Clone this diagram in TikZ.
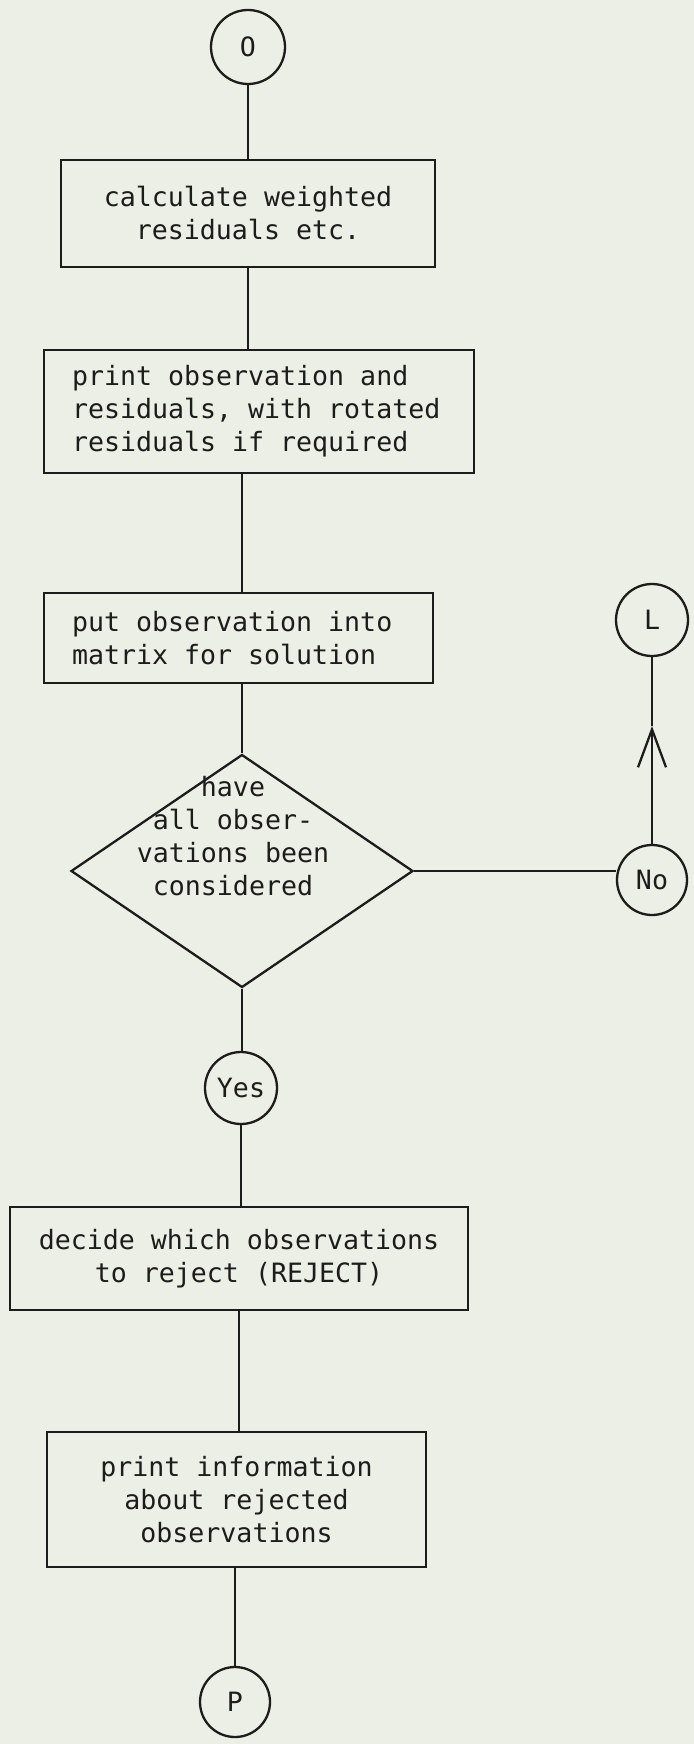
\documentclass[tikz,border=0pt]{standalone}
\usepackage{fontspec}
\setmonofont[WordSpace={1,0,0}]{DejaVu Sans Mono}
\usetikzlibrary{shapes.geometric,arrows.meta}
\definecolor{paper}{RGB}{236,239,230}
\definecolor{ink}{RGB}{28,28,28}
% keep the full monospaced word space inside ragged text blocks
\newcommand\fullspaces{\spaceskip=0pt\xspaceskip=0pt\relax}
\begin{document}
\begin{tikzpicture}[x=0.5pt,y=-0.5pt,
  every node/.style={font=\ttfamily\fontsize{13.3}{16.5}\selectfont, text=ink},
  proc/.style={draw=ink, line width=1.15pt, inner sep=0pt, align=center},
  procleft/.style={proc, inner xsep=14pt, align=left},
  conn/.style={draw=ink, line width=1.15pt, circle, inner sep=0pt},
  decision/.style={diamond, draw=ink, line width=1.15pt, inner sep=0pt},
  flow/.style={draw=ink, line width=1.15pt},
]
\useasboundingbox (0,0) rectangle (694,1744);
\fill[paper] (0,0) rectangle (694,1744);

% main column
\node[conn, minimum size=37pt] (o) at (248,47) {O};
\node[proc, minimum width=187pt, minimum height=53.5pt] (b1) at (248,213.5)
  {calculate weighted\\residuals etc.};
\node[procleft, minimum height=61.5pt, text width=187pt] (b2) at (259,411.5)
  {\fullspaces print observation and\\residuals, with rotated\\residuals if required};
\node[procleft, minimum height=45pt, text width=166.5pt] (b3) at (238.5,638)
  {\fullspaces put observation into\\matrix for solution};
\node[decision, minimum width=171pt, minimum height=116.5pt] (dia) at (242,871) {};
\node[align=center] (dtext) at (233,836) {have\\all obser-\\vations been\\considered};
\node[conn, minimum size=36pt] (yes) at (241,1088) {Yes};
\node[proc, minimum width=229pt, minimum height=51.5pt] (b4) at (239,1258.5)
  {decide which observations\\to reject (REJECT)};
\node[proc, minimum width=189.5pt, minimum height=67.5pt] (b5) at (236.5,1499.5)
  {print information\\about rejected\\observations};
\node[conn, minimum size=35pt] (p) at (235,1702) {P};

% "No" branch
\node[conn, minimum size=35pt] (no) at (652,880) {No};
\node[conn, minimum size=36pt] (L) at (652,620) {L};
\coordinate (tip) at (652,726);

% connectors
\draw[flow] (o.south) -- (o.south |- b1.north);
\draw[flow] (b1.south) -- (b1.south |- b2.north);
\draw[flow] (dia.north |- b2.south) -- (dia.north |- b3.north);
\draw[flow] (dia.north |- b3.south) -- (dia.north);
\draw[flow] (dia.east) -- (dia.east -| no.west);
\draw[flow, -{Straight Barb[length=19pt,width=14pt]}] (no.north) -- (tip);
\draw[flow] (tip) -- (L.south);
\draw[flow] (dia.south) -- (dia.south |- yes.north);
\draw[flow] (yes.south) -- (yes.south |- b4.north);
\draw[flow] (b4.south) -- (b4.south |- b5.north);
\draw[flow] (p.north |- b5.south) -- (p.north);
\end{tikzpicture}
\end{document}
